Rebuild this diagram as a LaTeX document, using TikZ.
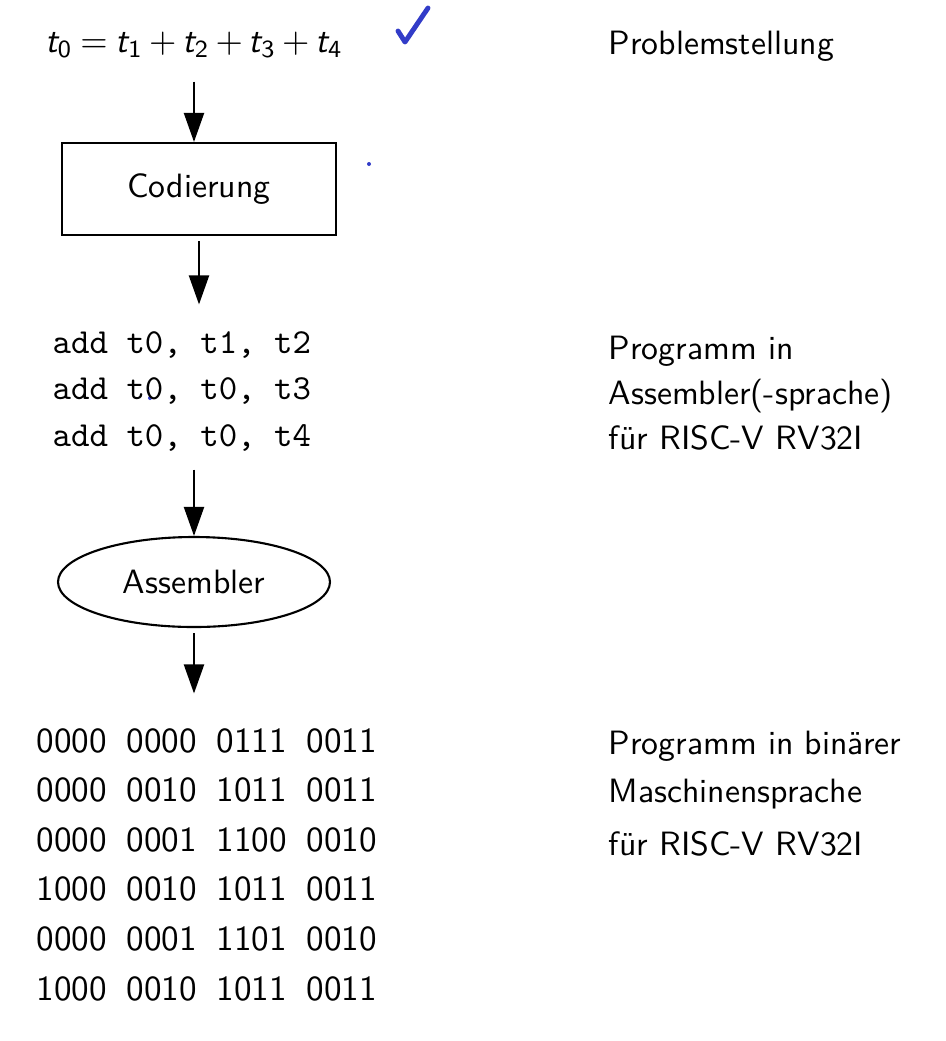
\documentclass[tikz,border=0pt]{standalone}
\usepackage{fontspec}
\usepackage{amsmath}
\usetikzlibrary{shapes.geometric,arrows.meta,positioning}
\renewcommand{\familydefault}{\sfdefault}
\definecolor{inkblue}{RGB}{50,60,200}
\newcommand{\tvar}[1]{\textsf{\itshape t}_{\textsf{#1}}}
\newcommand{\gap}{\hspace{5.6pt}}
\tikzset{
  flow/.style={-{Triangle[length=2.9mm,width=2mm]}, line width=0.6pt},
  txt/.style={inner sep=0pt, anchor=base west},
  lab/.style={txt, font=\fontsize{9.6}{11.5}\selectfont},
}

\begin{document}
\begin{tikzpicture}
\useasboundingbox (0,0) rectangle (9.46,-10.41);

% Problem
\node[inner sep=0pt, anchor=base] (eq) at (1.94,-0.52)
  {$\thickmuskip=4mu \medmuskip=3mu \tvar{0} = \tvar{1} + \tvar{2} + \tvar{3} + \tvar{4}$};
\node[lab] (prob) at (6.08,-0.54) {Problemstellung};

% handwritten marks
\draw[inkblue, line width=1.4pt, line cap=round, line join=round] (3.98,-0.31) -- (4.05,-0.42) -- (4.28,-0.08);
\fill[inkblue] (3.69,-1.64) circle (0.02);
\fill[inkblue] (1.50,-3.98) circle (0.02);

% Codierung
\node[draw, line width=0.6pt, minimum width=2.74cm, minimum height=0.92cm,
      font=\fontsize{9.6}{11.5}\selectfont] (codier) at (1.99,-1.89) {Codierung};

% Assembler program
\foreach \line [count=\i] in {add t0{,} t1{,} t2, add t0{,} t0{,} t3, add t0{,} t0{,} t4}
  \node[txt, font=\ttfamily] (code\i) at (0.52,{-3.53-0.465*(\i-1)}) {\line};
\node[lab] (lab1) at (6.08,-3.59) {Programm in};
\node[lab] (lab2) at (6.08,-4.04) {Assembler(-sprache)};
\node[lab] (lab3) at (6.08,-4.49) {für RISC-V RV32I};

% Assembler
\node[draw, ellipse, line width=0.6pt, minimum width=2.72cm, minimum height=0.9cm,
      font=\fontsize{9.6}{11.5}\selectfont] (asm) at (1.94,-5.82) {Assembler};

% Machine code
\foreach \word [count=\i] in {0000\gap 0000\gap 0111\gap 0011,
                             0000\gap 0010\gap 1011\gap 0011,
                             0000\gap 0001\gap 1100\gap 0010,
                             1000\gap 0010\gap 1011\gap 0011,
                             0000\gap 0001\gap 1101\gap 0010,
                             1000\gap 0010\gap 1011\gap 0011}
  \node[txt] (bin\i) at (0.36,{-7.52-0.496*(\i-1)}) {\word};
\node[lab] (blab1) at (6.08,-7.54) {Programm in binärer};
\node[lab] (blab2) at (6.08,-8.02) {Maschinensprache};
\node[lab] (blab3) at (6.08,-8.55) {für RISC-V RV32I};

% Arrows
\draw[flow, shorten <=0.23cm] (eq.south) -- (eq.south |- codier.north);
\draw[flow, shorten <=0.05cm, shorten >=0.26cm] (codier.south) -- (codier.south |- code1.north);
\draw[flow, shorten <=0.18cm] (asm.north |- code3.south) -- (asm.north);
\draw[flow, shorten <=0.05cm, shorten >=0.34cm] (asm.south) -- (asm.south |- bin1.north);

\end{tikzpicture}
\end{document}
